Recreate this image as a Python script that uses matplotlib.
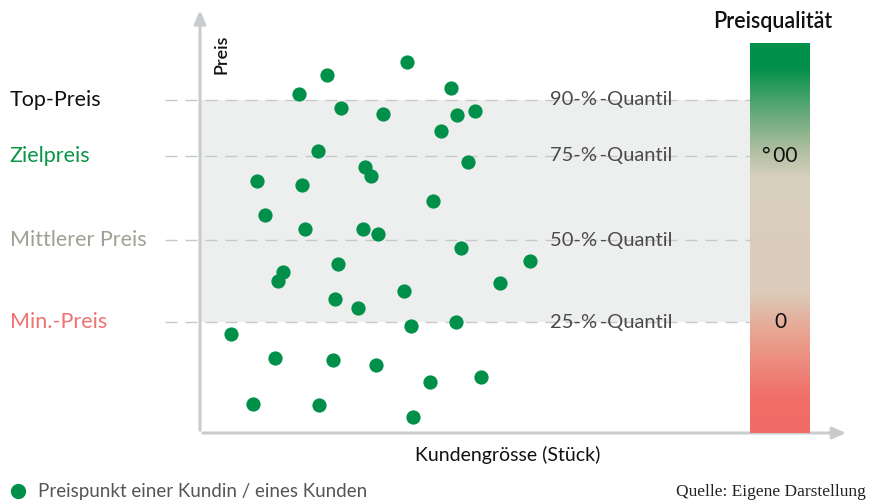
import numpy as np
import matplotlib.pyplot as plt
from matplotlib.colors import LinearSegmentedColormap
from matplotlib.lines import Line2D

plt.rcParams['font.family'] = ['Lato', 'DejaVu Sans']

# Kundengrösse (0-100) und Preis (0-100) je Kundin / Kunde
kunden_x = [32.1, 19.7, 15.4, 38.9, 21.8, 28.3, 39.8, 42.6, 37.4, 18.3,
            25.6, 26.5, 41.6, 8.9, 15.8, 36.2, 10.0, 16.3, 25.3, 27.6,
            40.4, 51.1, 21.4, 12.9, 12.1, 46.5, 31.6, 20.9, 24.5, 32.7,
            39.7, 4.8, 11.7, 20.6, 27.3, 43.6, 35.6, 8.2, 18.5, 33.0]
preis_y = [87.6, 84.7, 80.2, 81.6, 76.9, 75.3, 75.2, 76.2, 71.3, 66.7,
           62.8, 60.7, 64.0, 59.5, 58.6, 54.9, 51.5, 48.2, 48.3, 47.0,
           43.7, 40.6, 39.9, 38.0, 36.0, 35.5, 33.5, 31.7, 29.5, 25.4,
           26.3, 23.5, 17.7, 17.3, 16.0, 13.2, 12.0, 6.9, 6.6, 3.8]

quantile = [78.8, 65.5, 45.6, 26.2]
quantil_labels = ['90-%\u2009-Quantil', '75-%\u2009-Quantil', '50-%\u2009-Quantil', '25-%\u2009-Quantil']
preis_labels = ['Top-Preis', 'Zielpreis', 'Mittlerer Preis', 'Min.-Preis']
preis_farben = ['#111111', '#0a9447', '#a29f95', '#f07272']

# Farbverlauf Preisqualität (unten -> oben)
stops = [0.0, 0.085, 0.256, 0.36, 0.656, 0.733, 0.83, 0.94, 1.0]
stop_farben = ['#f06b65', '#f06d66', '#e9a492', '#dccbba', '#d8cfbd',
               '#aabd9d', '#5ea877', '#009049', '#009049']
qual_ticks = [('\u00b0\u200900', 0.71), ('0', 0.285)]

W, H = 870, 503
fig = plt.figure(figsize=(W / 100, H / 100), dpi=100)
fig.patch.set_facecolor('white')

# Hauptachse: px 200..845 (x), 433..10 (y)
ax = fig.add_axes([200 / W, (H - 433) / H, 645 / W, 423 / H])
ax.set_xlim(0, 100)
ax.set_ylim(0, 100)
ax.axis('off')

band_end = 85.3
ax.fill_between([0, band_end], quantile[3], quantile[0], color='#edeeee', lw=0, zorder=0)
for q, lab, pl, pc in zip(quantile, quantil_labels, preis_labels, preis_farben):
    ax.plot([-5.4, band_end], [q, q], color='#c6c8ca', lw=1, dashes=(8.6, 5.8), clip_on=False, zorder=1)
    ax.text(54.3, q, lab, fontsize=14.5, color='#4a4a4a', va='center', ha='left', zorder=3)
    ax.text(-29.5, q, pl, fontsize=15.5, color=pc, va='center', ha='left', clip_on=False)

ax.scatter(kunden_x, preis_y, s=105, color='#00904a', lw=0, zorder=4, clip_on=False)

# Achsen mit Pfeilen
axis_col = '#c9cccf'
ax.annotate('', xy=(0, 100.6), xytext=(0, 0), xycoords='data',
            arrowprops=dict(arrowstyle='-|>,head_length=0.8,head_width=0.35', color=axis_col, lw=2.2),
            annotation_clip=False)
ax.annotate('', xy=(100.6, 0), xytext=(0, 0), xycoords='data',
            arrowprops=dict(arrowstyle='-|>,head_length=0.8,head_width=0.35', color=axis_col, lw=2.2),
            annotation_clip=False)

ax.text(3.4, 89.6, 'Preis', rotation=90, fontsize=13, color='#111111', ha='center', va='center',
        fontweight='semibold')
fig.text(508 / W, 1 - 455 / H, 'Kundengrösse (Stück)', fontsize=14, color='#111111',
         ha='center', va='center')

# Farbbalken Preisqualität
cax = fig.add_axes([750 / W, (H - 433) / H, 60 / W, 390 / H])
cmap = LinearSegmentedColormap.from_list('pq', list(zip(stops, stop_farben)))
grad = np.linspace(0, 1, 256).reshape(-1, 1)
cax.imshow(grad, aspect='auto', cmap=cmap, origin='lower', extent=[0, 1, 0, 1])
cax.set_xlim(0, 1)
cax.set_ylim(0, 1)
cax.axis('off')
for t, pos in qual_ticks:
    cax.text(0.5, pos, t, fontsize=15, color='#111111', ha='center', va='center')
fig.text(773 / W, 1 - 21 / H, 'Preisqualität', fontsize=15.5, color='#111111', ha='center',
         va='center', fontweight='semibold')

# Legende und Quelle
fig.add_artist(Line2D([18 / W], [1 - 491 / H], transform=fig.transFigure, marker='o',
                      ms=11, color='#00904a', mew=0, ls='none'))
fig.text(38 / W, 1 - 491 / H, 'Preispunkt einer Kundin / eines Kunden', fontsize=13.5,
         color='#555555', ha='left', va='center')
fig.text(866 / W, 1 - 492 / H, 'Quelle: Eigene Darstellung', fontsize=12.5, color='#222222',
         ha='right', va='center', family=['Liberation Serif', 'DejaVu Serif'])

fig.savefig('out.png', dpi=100)
